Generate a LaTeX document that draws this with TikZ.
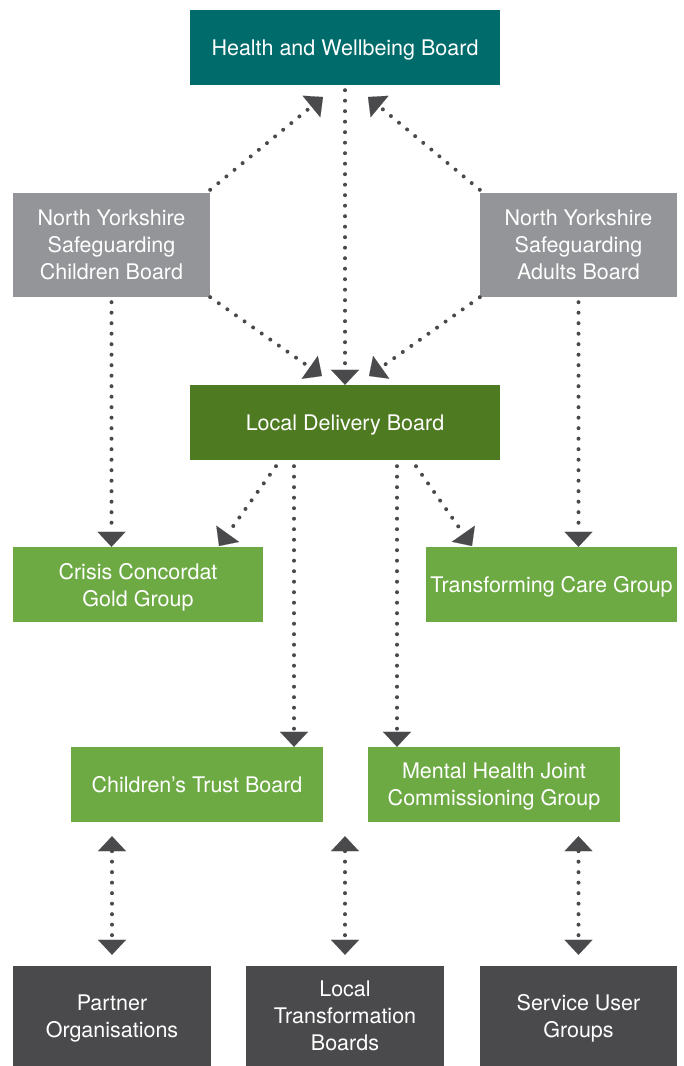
\documentclass[tikz,border=0pt]{standalone}
\usepackage{fontspec}
\setmainfont{TeX Gyre Heros}
\usetikzlibrary{arrows.meta}
\definecolor{hwbteal}{RGB}{0,107,107}
\definecolor{boardgray}{RGB}{147,149,152}
\definecolor{ldbgreen}{RGB}{78,122,33}
\definecolor{groupgreen}{RGB}{109,170,68}
\definecolor{userdark}{RGB}{74,74,76}

\begin{document}
\begin{tikzpicture}[x=1pt,y=-1pt,
    box/.style={text=white,align=center,inner sep=0pt,text depth=0pt,
      font=\fontsize{21.5}{27}\selectfont},
    dots/.style={draw=userdark,line width=4pt,line cap=round,
      dash pattern=on 0pt off 10.5pt},
    tip/.style={-{Triangle[length=15pt,width=28pt,line width=0.1pt]}},
    twotip/.style={{Triangle[length=15pt,width=28pt,line width=0.1pt]}-{Triangle[length=15pt,width=28pt,line width=0.1pt]}}]
  \useasboundingbox (0,0) rectangle (684,1066);
  % boards
  \node[box,fill=hwbteal,minimum width=310pt,minimum height=75pt] (hwb) at (345,47.5) {Health and Wellbeing Board};
  \node[box,fill=boardgray,minimum width=197pt,minimum height=104pt] (nyscb) at (111.5,245) {North Yorkshire\\Safeguarding\\Children Board};
  \node[box,fill=boardgray,minimum width=197pt,minimum height=104pt] (nysab) at (578.5,245) {North Yorkshire\\Safeguarding\\Adults Board};
  \node[box,fill=ldbgreen,minimum width=310pt,minimum height=75pt] (ldb) at (345,422.5) {Local Delivery Board};
  % groups
  \node[box,fill=groupgreen,minimum width=250pt,minimum height=75pt] (crisis) at (138,584.5) {Crisis Concordat\\Gold Group};
  \node[box,fill=groupgreen,minimum width=251pt,minimum height=75pt] (tcg) at (551.5,584.5) {Transforming Care Group};
  \node[box,fill=groupgreen,minimum width=252pt,minimum height=75pt] (ctb) at (197,784.5) {Children’s Trust Board};
  \node[box,fill=groupgreen,minimum width=252pt,minimum height=75pt] (mhj) at (494,784.5) {Mental Health Joint\\Commissioning Group};
  % partners
  \node[box,fill=userdark,minimum width=198pt,minimum height=100pt] (partner) at (112,1016) {Partner\\Organisations};
  \node[box,fill=userdark,minimum width=198pt,minimum height=100pt] (ltb) at (345,1016) {Local\\Transformation\\Boards};
  \node[box,fill=userdark,minimum width=197pt,minimum height=100pt] (sug) at (578.5,1016) {Service User\\Groups};

  % arrow ends
  \coordinate (hwbL) at (323,97);
  \coordinate (hwbR) at (368,97);
  \coordinate (ldbL) at (322,376);
  \coordinate (ldbR) at (369,376);
  \coordinate (crisisIn) at (219,546);
  \coordinate (tcgIn) at (472,546);

  \draw[dots,tip] (hwb.south) ++(0,5) -- (ldb.north);
  \draw[dots,tip] (nyscb.north east) ++(0,-3) -- (hwbL);
  \draw[dots,tip] (nysab.north west) ++(0,-3) -- (hwbR);
  \draw[dots,tip] (nyscb.south east) -- (ldbL);
  \draw[dots,tip] (nysab.south west) -- (ldbR);
  \draw[dots,tip] (nyscb.south) ++(0,5) -- (crisis.north -| nyscb.south);
  \draw[dots,tip] (nysab.south) ++(0,5) -- (tcg.north -| nysab.south);
  \draw[dots,tip] (ldb.south) ++(-69,6) -- (crisisIn);
  \draw[dots,tip] (ldb.south) ++(71,6) -- (tcgIn);
  \draw[dots,tip] (ldb.south) ++(-51,6) -- (ctb.north -| 294,0);
  \draw[dots,tip] (ldb.south) ++(52,6) -- (mhj.north -| 397,0);
  \draw[dots,twotip] (ctb.south -| partner.north) ++(0,14) -- ([yshift=11pt]partner.north);
  \draw[dots,twotip] (ctb.south -| ltb.north) ++(0,14) -- ([yshift=11pt]ltb.north);
  \draw[dots,twotip] (mhj.south -| sug.north) ++(0,14) -- ([yshift=11pt]sug.north);
\end{tikzpicture}
\end{document}
